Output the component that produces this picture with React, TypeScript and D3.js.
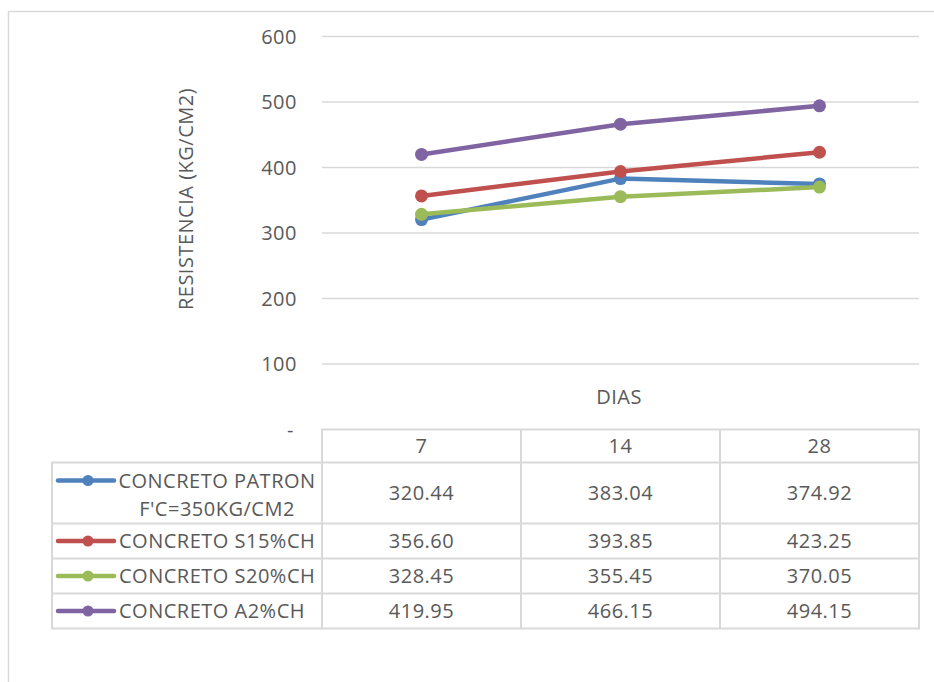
import React from 'react';
import * as d3 from 'd3';

// Values
const days = ['7', '14', '28'];
const seriesNames = [
  ['CONCRETO PATRON', "F'C=350KG/CM2"],
  ['CONCRETO S15%CH'],
  ['CONCRETO S20%CH'],
  ['CONCRETO A2%CH'],
];
const patron = [320.44, 383.04, 374.92];
const s15 = [356.6, 393.85, 423.25];
const s20 = [328.45, 355.45, 370.05];
const a2 = [419.95, 466.15, 494.15];
const yTicks = [0, 100, 200, 300, 400, 500, 600];
const colors = ['#4F81BD', '#C0504D', '#9BBB59', '#8064A2'];

const W = 934;
const H = 682;
const FONT = '"Open Sans", sans-serif';
const FS = 20;
const LS = 0.5;
const TEXT = '#595959';
const GRID = '#d9d9d9';

export default function App() {
  const series = [patron, s15, s20, a2];

  const y = d3.scaleLinear().domain([0, 600]).range([429.5, 36.5]);
  const x = d3.scaleBand<string>().domain(days).range([322, 919]);
  const cx = (d: string) => (x(d) || 0) + x.bandwidth() / 2;

  const line = d3
    .line<number>()
    .x((_, i) => cx(days[i]))
    .y(v => y(v));

  const fmt = (v: number) => (v === 0 ? '-' : String(v));

  // table geometry
  const tableTop = y(0);
  const headerH = 33;
  const rowH = [61, 35, 35, 35];
  const rowTops: number[] = [];
  let acc = tableTop + headerH;
  rowH.forEach(h => {
    rowTops.push(acc);
    acc += h;
  });
  const tableBottom = acc;
  const legendLeft = 52;
  const [xL, xR] = x.range();

  const txt = { fontSize: FS, fill: TEXT, letterSpacing: LS };

  return (
    <svg
      width={W}
      height={H}
      style={{ position: 'absolute', left: 0, top: 0, background: '#fff' }}
      fontFamily={FONT}
    >
      {/* outer chart frame */}
      <path d={`M8.5,${H} V11.5 H${W}`} fill="none" stroke={GRID} strokeWidth={1.5} />

      {/* gridlines */}
      {yTicks
        .filter(t => t > 0)
        .map(t => (
          <line key={t} x1={xL} x2={xR} y1={y(t)} y2={y(t)} stroke={GRID} strokeWidth={1.5} />
        ))}

      {/* y tick labels */}
      {yTicks.map(t => (
        <text key={t} x={t === 0 ? 294 : 297} y={y(t)} dy="0.36em" textAnchor="end" {...txt}>
          {fmt(t)}
        </text>
      ))}

      {/* axis titles */}
      <text transform={`translate(193,199) rotate(-90)`} textAnchor="middle" {...txt}>
        RESISTENCIA  (KG/CM2)
      </text>
      <text x={619} y={404} textAnchor="middle" {...txt}>
        DIAS
      </text>

      {/* data table */}
      <g stroke={GRID} strokeWidth={2} fill="none">
        <rect x={xL} y={tableTop} width={xR - xL} height={tableBottom - tableTop} />
        <rect x={legendLeft} y={rowTops[0]} width={xL - legendLeft} height={tableBottom - rowTops[0]} />
        {rowTops.slice(1).map(t => (
          <line key={t} x1={legendLeft} x2={xR} y1={t} y2={t} />
        ))}
        <line x1={xL} x2={xR} y1={rowTops[0]} y2={rowTops[0]} />
        {days.slice(1).map(d => (
          <line key={d} x1={x(d)} x2={x(d)} y1={tableTop} y2={tableBottom} />
        ))}
      </g>

      {days.map(d => (
        <text key={d} x={cx(d)} y={tableTop + headerH / 2} dy="0.36em" textAnchor="middle" {...txt}>
          {d}
        </text>
      ))}

      {series.map((vals, si) => (
        <g key={si}>
          {vals.map((v, i) => (
            <text
              key={i}
              x={cx(days[i])}
              y={rowTops[si] + rowH[si] / 2}
              dy="0.36em"
              textAnchor="middle"
              {...txt}
            >
              {v.toFixed(2)}
            </text>
          ))}
        </g>
      ))}

      {/* legend keys inside the table */}
      {seriesNames.map((name, si) => {
        const my = name.length > 1 ? rowTops[si] + 18 : rowTops[si] + rowH[si] / 2;
        return (
          <g key={si}>
            <line x1={58} x2={114} y1={my} y2={my} stroke={colors[si]} strokeWidth={4.5} strokeLinecap="round" />
            <circle cx={88} cy={my} r={5.5} fill={colors[si]} />
            {name.length > 1 ? (
              name.map((ln, li) => (
                <text key={li} x={217} y={my + li * 28} dy="0.36em" textAnchor="middle" {...txt}>
                  {ln}
                </text>
              ))
            ) : (
              <text x={119} y={my} dy="0.36em" {...txt}>
                {name[0]}
              </text>
            )}
          </g>
        );
      })}

      {/* series lines and markers */}
      {series.map((vals, si) => (
        <g key={si}>
          <path d={line(vals) || ''} fill="none" stroke={colors[si]} strokeWidth={4.5} strokeLinejoin="round" />
          {vals.map((v, i) => (
            <circle key={i} cx={cx(days[i])} cy={y(v)} r={6.5} fill={colors[si]} />
          ))}
        </g>
      ))}
    </svg>
  );
}
